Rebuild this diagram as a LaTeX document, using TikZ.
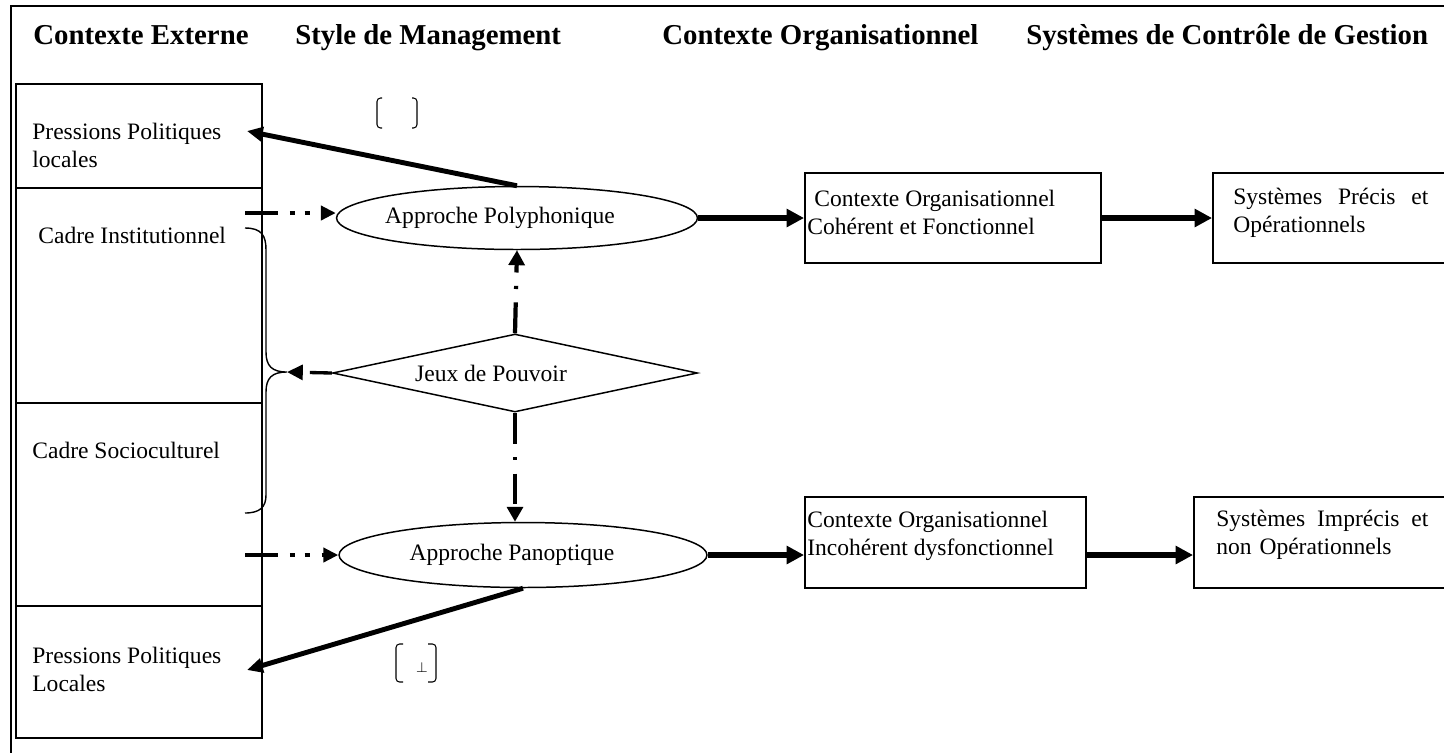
\documentclass[tikz,border=0pt]{standalone}
\usepackage{fontspec}
\setmainfont{Liberation Serif}
\usetikzlibrary{arrows.meta,shapes.geometric}

\begin{document}
\begin{tikzpicture}[x=0.02cm,y=-0.02cm]
\tikzstyle{every node}+=[inner sep=0pt, font=\fontsize{13.4}{15.9}\selectfont]
\tikzstyle{boite}=[draw, line width=1.1pt, minimum width=4.92cm]
\tikzstyle{titre}=[anchor=base west, font=\fontsize{16.4}{19}\selectfont\bfseries]
\tikzstyle{txt}=[anchor=west, align=left]
\tikzstyle{ovale}=[draw, ellipse, line width=0.85pt]
\tikzstyle{grosse}=[line width=3.2pt, -{Triangle[length=10pt,width=10pt]}]
\tikzstyle{oblique}=[line width=2.8pt, -{Triangle[length=9pt,width=8pt]}]
\tikzstyle{tiret}=[line width=2.4pt, dash pattern=on 18.7pt off 6.8pt on 2.8pt off 5.7pt on 2.8pt off 6.8pt, -{Triangle[length=8.5pt,width=8pt]}]
\tikzstyle{vert}=[line width=2.4pt, dash pattern=on 17.6pt off 7.6pt on 1.8pt off 7.6pt, -{Triangle[length=8.5pt,width=9pt]}]
\tikzstyle{crochet}=[line width=0.6pt, rounded corners=2pt]
\path[use as bounding box] (0,0) rectangle (1444,752);
\clip (0,0) rectangle (1444,752);
\draw[line width=1.1pt] (11,770) |- (1460,6);
\node[titre] (t1) at (33,44) {Contexte Externe};
\node[titre] (t2) at (295,44) {Style de Management};
\node[titre] (t3) at (662,44) {Contexte Organisationnel};
\node[titre] (t4) at (1026,44) {Systèmes de Contrôle de Gestion};
\node[boite, minimum height=2.08cm] (pol1) at (139,136) {};
\node[boite, minimum height=4.3cm] (inst) at (139,295.5) {};
\node[boite, minimum height=4.06cm] (socio) at (139,504.5) {};
\node[boite, minimum height=2.64cm] (pol2) at (139,672) {};
\node[txt] (tpol1) at (32,145) {Pressions Politiques\\locales};
\node[txt] (tinst) at (38,235) {Cadre Institutionnel};
\node[txt] (tsocio) at (32,450) {Cadre Socioculturel};
\node[txt] (tpol2) at (32,669) {Pressions Politiques\\Locales};
\node[ovale, minimum width=7.22cm, minimum height=1.26cm] (poly) at (517,218) {};
\node (tpoly) at (500,218) {Approche Polyphonique};
\node[draw, diamond, line width=0.85pt, minimum width=7.3cm, minimum height=1.56cm] (jeux) at (515,373) {};
\node (tjeux) at (491,373) {Jeux de Pouvoir};
\node[ovale, minimum width=7.36cm, minimum height=1.3cm] (pano) at (523,555) {};
\node (tpano) at (512,555) {Approche Panoptique};
\node[boite, minimum width=5.92cm, minimum height=1.8cm] (coh) at (953,218) {};
\node[txt] (tcoh) at (807,212) {\hspace*{4pt}Contexte Organisationnel\\Cohérent et Fonctionnel};
\node[boite, minimum width=4.94cm, minimum height=1.8cm] (prec) at (1336.5,218) {};
\node[txt, text width=3.9cm] (tprec) at (1233,213) {Systèmes\hfill Précis\hfill et\\Opérationnels};
\node[boite, minimum width=5.62cm, minimum height=1.82cm] (inc) at (945.5,542.5) {};
\node[txt] (tinc) at (807,536) {Contexte Organisationnel\\Incohérent dysfonctionnel};
\node[boite, minimum width=5.32cm, minimum height=1.82cm] (impr) at (1327,542.5) {};
\node[txt, text width=4.24cm] (timpr) at (1216,535) {Systèmes\hfill Imprécis\hfill et\\non Opérationnels};
\draw[crochet] (382,98) -- (377,98) -- (377,128) -- (382,128);
\draw[crochet] (412,98) -- (417,98) -- (417,128) -- (412,128);
\draw[crochet] (403,644) -- (396,644) -- (396,682) -- (403,682);
\draw[crochet] (428,644) -- (436,644) -- (436,682) -- (428,682);
\node[font=\fontsize{8}{9}\selectfont] (perp) at (422,668) {$\perp$};
\coordinate (p1) at (247,131);
\coordinate (p2) at (247,670);
\coordinate (d1) at (245,213);
\coordinate (d2) at (245,555);
\coordinate (pointe) at (287,372);
\draw[line width=0.8pt] (245,228) .. controls (262,228) and (266,236) .. (266,250) -- (266,352) .. controls (266,366) and (272,372) .. (pointe) .. controls (272,372) and (266,378) .. (266,392) -- (266,495) .. controls (266,507) and (260,513) .. (245,513);
\draw[oblique] (poly.north) -- (p1);
\draw[oblique] (pano.south) -- (p2);
\draw[tiret] (d1) -- (d1 -| poly.west);
\draw[tiret] (d2) -- (pano.west);
\draw[vert] (jeux.north) -- (poly.south);
\draw[vert] (jeux.south) -- (jeux.south |- pano.north);
\draw[line width=1.9pt, dash pattern=on 12.5pt off 5pt, -{Triangle[length=9pt,width=8.5pt]}] (jeux.west) -- (pointe);
\draw[grosse] (poly.east) -- (coh.west);
\draw[grosse] (coh.east) -- (prec.west);
\draw[grosse] (pano.east) -- (pano.east -| inc.west);
\draw[grosse] (inc.east |- pano.east) -- (impr.west |- pano.east);
\end{tikzpicture}
\end{document}
